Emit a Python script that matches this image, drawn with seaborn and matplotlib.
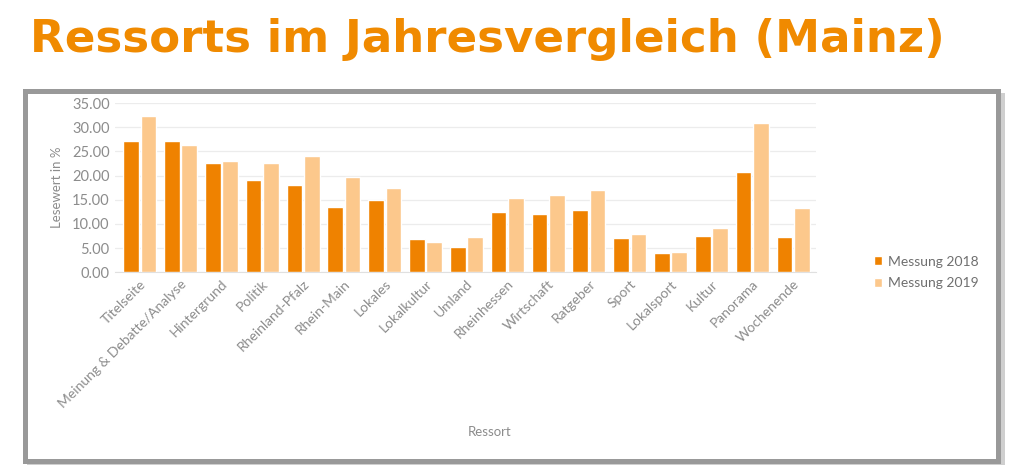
import matplotlib
matplotlib.use("Agg")
import matplotlib.pyplot as plt
from matplotlib.patches import Rectangle
import pandas as pd
import seaborn as sns

# Data
ressorts = ["Titelseite", "Meinung & Debatte/Analyse", "Hintergrund", "Politik",
            "Rheinland-Pfalz", "Rhein-Main", "Lokales", "Lokalkultur", "Umland",
            "Rheinhessen", "Wirtschaft", "Ratgeber", "Sport", "Lokalsport",
            "Kultur", "Panorama", "Wochenende"]
messung_2018 = [27.2, 27.1, 22.7, 19.0, 18.1, 13.5, 15.0, 6.8, 5.2,
                12.5, 12.1, 12.9, 7.0, 3.9, 7.5, 20.7, 7.2]
messung_2019 = [32.4, 26.4, 23.0, 22.5, 24.1, 19.6, 17.4, 6.2, 7.3,
                15.4, 16.0, 17.0, 7.9, 4.2, 9.1, 30.9, 13.2]
series = ["Messung 2018", "Messung 2019"]
y_ticks = [0, 5, 10, 15, 20, 25, 30, 35]

df = pd.DataFrame({
    "Ressort": ressorts * 2,
    "Wert": messung_2018 + messung_2019,
    "Serie": [series[0]] * len(ressorts) + [series[1]] * len(ressorts),
})

sns.set_style("white")
plt.rcParams["font.family"] = ["Lato", "DejaVu Sans"]

grey = "#8c8c8c"
fig = plt.figure(figsize=(10.24, 4.75), dpi=100)

# framed box with shadow
fig.patches.append(Rectangle((0.026, 0.022), 0.955, 0.782, transform=fig.transFigure,
                             facecolor="#cfcfcf", edgecolor="none", zorder=0))
fig.patches.append(Rectangle((0.024, 0.030), 0.951, 0.778, transform=fig.transFigure,
                             facecolor="white", edgecolor="#999999", linewidth=3.6, zorder=1))

fig.text(0.029, 0.962, "Ressorts im Jahresvergleich (Mainz)", fontsize=32.5,
         fontweight="bold", family="DejaVu Sans", color="#F08A00", va="top", ha="left")

ax = fig.add_axes([0.1125, 0.427, 0.684, 0.356])
ax.set_zorder(5)
ax.set_facecolor("none")
sns.barplot(data=df, x="Ressort", y="Wert", hue="Serie",
            palette=["#EF8200", "#FCC88C"], width=0.85, gap=0.1,
            saturation=1, ax=ax, zorder=3)

ax.set_xlim(-0.6, len(ressorts) - 0.45)
ax.set_ylim(0, 35)
ax.set_yticks(y_ticks)
ax.set_yticklabels([f"{v:.2f}" for v in y_ticks], fontsize=10.5, color=grey)
ax.grid(axis="y", color="#ececec", linewidth=0.9, zorder=0)
ax.set_axisbelow(True)
for s in ["top", "right", "left"]:
    ax.spines[s].set_visible(False)
ax.spines["bottom"].set_color("#e0e0e0")
ax.tick_params(axis="both", length=0, pad=4)

ax.set_xticks(range(len(ressorts)))
ax.set_xticklabels(ressorts, rotation=45, ha="right", rotation_mode="anchor",
                   fontsize=10, color=grey)

ax.set_ylabel("Lesewert in %", fontsize=9.5, color=grey)
ax.yaxis.set_label_coords(-0.075, 0.5)
ax.set_xlabel("Ressort", fontsize=9.5, color=grey)
ax.xaxis.set_label_coords(0.535, -0.91)

leg = ax.legend(loc="upper left", bbox_to_anchor=(1.075, 0.13), frameon=False,
                fontsize=10, handlelength=0.6, handleheight=0.6, handletextpad=0.4,
                labelspacing=0.7, borderaxespad=0)
for t in leg.get_texts():
    t.set_color("#6f6f6f")

fig.savefig("out.png", dpi=100)
